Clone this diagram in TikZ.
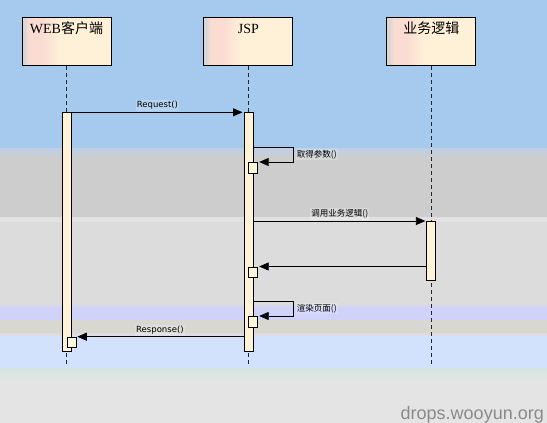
\documentclass[tikz,border=0pt]{standalone}
\usepackage{fontspec}
\setmainfont{Liberation Serif}
\newfontfamily\cjk{Noto Sans CJK SC}
\newfontfamily\msgfont{DejaVu Sans}
\newfontfamily\wmfont{Liberation Sans}
\usetikzlibrary{positioning,arrows.meta}

\definecolor{bgblue}{HTML}{A6CAEE}
\definecolor{bggrey}{HTML}{CDCDCD}
\definecolor{bglight}{HTML}{DCDCDC}
\definecolor{bglav}{HTML}{D0D2FA}
\definecolor{bgbeige}{HTML}{D8D8D0}
\definecolor{bgsky}{HTML}{D3E2FC}
\definecolor{bgbottom}{HTML}{E4E4E4}
\definecolor{objgrey}{HTML}{D6D6D6}
\definecolor{objpink}{HTML}{FADCD2}
\definecolor{objcream}{HTML}{FFF0D8}
\definecolor{actfill}{HTML}{FFF2D6}
\definecolor{subfill}{HTML}{FFF7DC}
\definecolor{wmgrey}{HTML}{8A8A8A}

\pgfdeclarehorizontalshading{objshade}{100bp}{color(0bp)=(objgrey); color(26bp)=(objgrey); color(29bp)=(objpink); color(36bp)=(objpink); color(46bp)=(objcream); color(100bp)=(objcream)}

\tikzset{objbox/.style={
        draw,
        rectangle,
        shading=objshade,
        minimum width=89pt,
        minimum height=48.5pt,
        inner sep=0pt,
        line width=0.9pt } }
\tikzset{titlelbl/.style={
        anchor=base,
        yshift=-17pt,
        inner sep=0pt,
        font=\fontsize{14}{16}\selectfont } }
\tikzset{actbar/.style={
        draw,
        rectangle,
        fill=actfill,
        minimum width=9pt,
        inner sep=0pt,
        line width=0.8pt } }
\tikzset{subact/.style={
        draw,
        rectangle,
        fill=subfill,
        minimum width=9pt,
        minimum height=10.5pt,
        inner sep=0pt,
        anchor=north west,
        line width=0.8pt } }
\tikzset{lifeline/.style={
        draw=black!85,
        line width=0.7pt,
        dash pattern=on 4pt off 3pt } }
\tikzset{msg/.style={
        ->,
        draw=black,
        line width=0.8pt,
        shorten >=1pt } }
\tikzset{msglbl/.style={
        font=\msgfont\fontsize{8.5}{10}\selectfont,
        fill=white, fill opacity=0.2, text opacity=1,
        inner sep=1.2pt } }

\begin{document}
\begin{tikzpicture}[x=1pt,y=-1pt,>={Triangle[length=9.5pt,width=8pt]}]

% background bands
\fill[bgblue] (0,0) rectangle (547,148);
\shade[top color=bgblue!70!objpink, bottom color=bggrey] (0,148) rectangle (547,158);
\fill[bggrey] (0,158) rectangle (547,217);
\fill[bglight!85!white] (0,217) rectangle (547,222);
\fill[bglight] (0,222) rectangle (547,303);
\shade[top color=bglight, bottom color=bglav] (0,303) rectangle (547,308);
\fill[bglav] (0,308) rectangle (547,320);
\fill[bgbeige] (0,320) rectangle (547,333);
\shade[top color=bgbeige!60!objpink, bottom color=bgsky] (0,333) rectangle (547,336);
\fill[bgsky] (0,336) rectangle (547,368);
\shade[top color=bgsky!85!green!40!bgbottom, bottom color=bgbottom] (0,368) rectangle (547,379);
\fill[bgbottom] (0,379) rectangle (547,423);
\useasboundingbox (0,0) rectangle (547,423);

% message rows
\coordinate (tReq) at (0,112.3);
\coordinate (tSelfA) at (0,147);
\coordinate (tSubA) at (0,162);
\coordinate (tCall) at (0,221);
\coordinate (tRet) at (0,266.5);
\coordinate (tSelfB) at (0,301.3);
\coordinate (tSubB) at (0,316);
\coordinate (tResp) at (0,336.7);
\coordinate (tLife) at (0,367);

% objects
\node[objbox] (web) at (66.5,41.5)
[label={[titlelbl]north:{WEB{\cjk 客户端}}}] {};
\node[objbox] (jsp) [right = 92pt of web, label={[titlelbl]north:{JSP}}] {};
\node[objbox] (biz) [right = 93pt of jsp, label={[titlelbl]north:{\cjk 业务逻辑}}] {};

% lifelines
\coordinate (webend) at (web.south |- tLife);
\coordinate (jspend) at (jsp.south |- tLife);
\coordinate (bizend) at (biz.south |- tLife);
\draw[lifeline] (web.south) -- (webend);
\draw[lifeline] (jsp.south) -- (jspend);
\draw[lifeline] (biz.south) -- (bizend);

% activations
\node[actbar, minimum height=238.4pt, anchor=north] (webact) at (web.south |- tReq) {};
\node[actbar, minimum height=238.4pt, anchor=north] (jspact) at (jsp.south |- tReq) {};
\node[actbar, minimum height=59.3pt, anchor=north] (bizact) at (biz.south |- tCall) {};
\node[subact] (jspa1) at (jsp.south |- tSubA) {};
\node[subact] (jspa2) at (jsp.south |- tRet) {};
\node[subact] (jspa3) at (jsp.south |- tSubB) {};
\node[subact] (weba1) at (web.south |- tResp) {};

% messages
\draw[msg] (webact.north east) -- node[msglbl, above=1pt] {Request()} (jspact.north west);
\draw[msg] (jspact.east |- tSelfA) -- (jsp.east |- tSelfA)
  |- node[msglbl, pos=0.25, right=2pt] {\cjk 取得参数()} (jspa1.north east);
\draw[msg] (jspact.east |- bizact.north) -- node[msglbl, above=1pt] {\cjk 调用业务逻辑()} (bizact.north west);
\draw[msg] (bizact.west |- jspa2.north) -- (jspa2.north east);
\draw[msg] (jspact.east |- tSelfB) -- (jsp.east |- tSelfB)
  |- node[msglbl, pos=0.25, right=2pt] {\cjk 渲染页面()} (jspa3.north east);
\draw[msg] (jspact.west |- weba1.north) -- node[msglbl, above=1pt] {Response()} (weba1.north east);

% watermark
\node[font=\wmfont\fontsize{18}{20}\selectfont, text=wmgrey, anchor=base east, inner sep=0pt] (wm) at (544,419) {drops.wooyun.org};

\end{tikzpicture}
\end{document}
